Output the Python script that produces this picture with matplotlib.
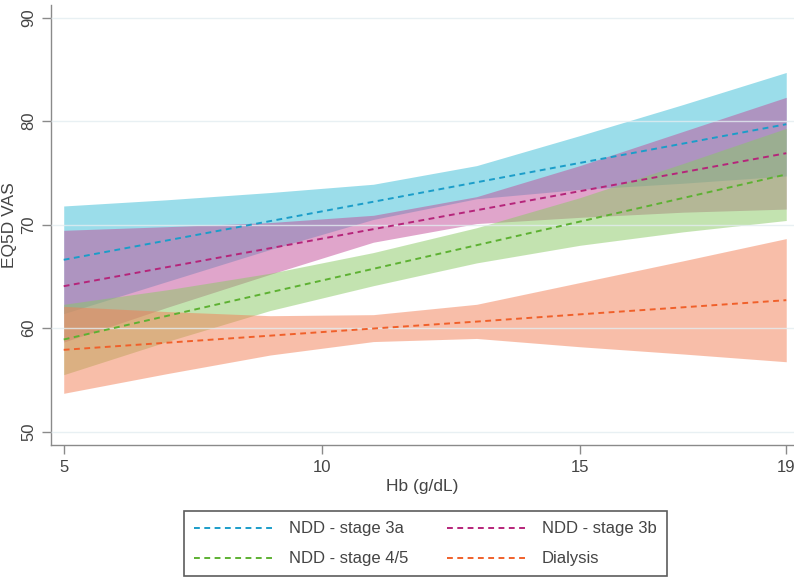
import matplotlib
matplotlib.use("Agg")
import matplotlib.pyplot as plt
import numpy as np

plt.rcParams['font.family'] = ['Liberation Sans', 'DejaVu Sans']

# Hb grid for the predicted margins
hb = [5, 7, 9, 11, 13, 15, 17, 19]

# predicted EQ5D VAS with 95% CI, per CKD group
s3a_mean = [66.6, 68.47, 70.34, 72.21, 74.09, 75.96, 77.83, 79.7]
s3a_hi = [71.8, 72.4, 73.1, 73.9, 75.7, 78.6, 81.6, 84.7]
s3a_lo = [61.4, 64.5, 67.6, 70.5, 72.5, 73.4, 74.0, 74.7]

s3b_mean = [64.05, 65.89, 67.72, 69.56, 71.39, 73.23, 75.06, 76.9]
s3b_hi = [69.45, 69.8, 70.2, 70.9, 72.7, 75.7, 79.0, 82.3]
s3b_lo = [58.65, 62.0, 65.2, 68.3, 70.1, 70.7, 71.2, 71.5]

s45_mean = [58.9, 61.18, 63.46, 65.73, 68.01, 70.29, 72.57, 74.85]
s45_hi = [62.3, 63.7, 65.3, 67.3, 69.7, 72.6, 75.9, 79.3]
s45_lo = [55.5, 58.7, 61.7, 64.1, 66.3, 68.0, 69.3, 70.4]

dial_mean = [57.9, 58.59, 59.27, 59.96, 60.63, 61.33, 62.01, 62.7]
dial_hi = [62.1, 61.6, 61.2, 61.3, 62.3, 64.4, 66.5, 68.65]
dial_lo = [53.7, 55.6, 57.4, 58.7, 59.0, 58.2, 57.5, 56.75]

labels = ["NDD - stage 3a", "NDD - stage 3b", "NDD - stage 4/5", "Dialysis"]
means = [s3a_mean, s3b_mean, s45_mean, dial_mean]
his = [s3a_hi, s3b_hi, s45_hi, dial_hi]
los = [s3a_lo, s3b_lo, s45_lo, dial_lo]
fills = ["#38BCD6", "#C24C98", "#89C963", "#F37F55"]
lines = ["#1B9DC9", "#B5257A", "#5DB132", "#F0602A"]

fig = plt.figure(figsize=(7.94, 5.78), dpi=100)
ax = fig.add_axes([0.064, 0.23, 0.936, 0.761])

for lo, hi, c in zip(los, his, fills):
    ax.fill_between(hb, lo, hi, color=c, alpha=0.5, lw=0, zorder=1)

handles = []
for m, c, lab in zip(means, lines, labels):
    h, = ax.plot(hb, m, color=c, lw=1.4, ls=(0, (3, 2.3)), label=lab, zorder=3)
    handles.append(h)

ax.set_xlim(4.75, 19.15)
ax.set_ylim(48.7, 91.2)
ax.set_xticks([5, 10, 15, 19])
ax.set_yticks([50, 60, 70, 80, 90])
ax.grid(axis='y', color='#E3EDF1', lw=1.0, alpha=0.8, zorder=2)
ax.set_axisbelow(False)
ax.grid(axis='x', visible=False)

for s in ['top', 'right']:
    ax.spines[s].set_visible(False)
for s in ['left', 'bottom']:
    ax.spines[s].set_color('#8A8A8A')
    ax.spines[s].set_linewidth(1.0)

ax.tick_params(axis='both', colors='#8A8A8A', labelcolor='#444444', labelsize=12, length=6.5, width=1.0)
ax.tick_params(axis='x', pad=4)
ax.tick_params(axis='y', pad=4)
for t in ax.get_yticklabels():
    t.set_rotation(90)
    t.set_va('center')

ax.set_xlabel("Hb (g/dL)", color='#444444', fontsize=12.5, labelpad=3)
ax.set_ylabel("EQ5D VAS", color='#444444', fontsize=12.5, labelpad=3)

order = [0, 2, 1, 3]
leg = fig.legend([handles[i] for i in order], [labels[i] for i in order],
                 loc='center', bbox_to_anchor=(0.536, 0.059), ncol=2,
                 fontsize=12, handlelength=4.8, columnspacing=2.3,
                 labelspacing=0.9, handletextpad=0.9, borderpad=0.6,
                 borderaxespad=0, frameon=True, fancybox=False)
leg.get_frame().set_edgecolor('#333333')
leg.get_frame().set_linewidth(1.2)
for t in leg.get_texts():
    t.set_color('#444444')

fig.savefig("out.png", dpi=100)
